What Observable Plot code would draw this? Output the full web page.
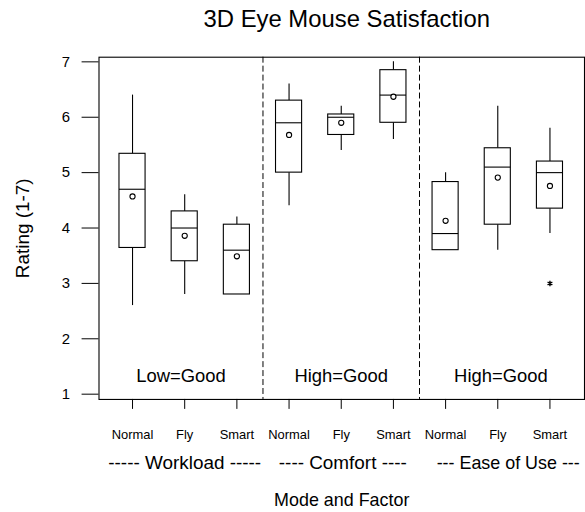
<!DOCTYPE html>
<html>
<head>
<meta charset="utf-8">
<script src="https://cdn.jsdelivr.net/npm/d3@7"></script>
<script src="https://cdn.jsdelivr.net/npm/@observablehq/plot@0.6"></script>
<style>
  html, body { margin: 0; padding: 0; background: #fff; overflow: hidden; }
</style>
</head>
<body>
<div id="chart"></div>
<script>
// ---- data ----
const categories   = ["Normal", "Fly", "Smart", "Normal", "Fly", "Smart", "Normal", "Fly", "Smart"];
const factors      = ["Workload", "Comfort", "Ease of Use"];
const factorLabels = ["----- Workload -----", "---- Comfort ----", "--- Ease of Use ---"];
const factorLabelPos  = [2, 5.03, 8.2];
const factorLabelSize = [19, 19, 18];
const goodLabels   = ["Low=Good", "High=Good", "High=Good"];
const goodLabelPos = [1.93, 5.0, 8.06];
const separators   = [3.5, 6.5];

const whiskerLow  = [2.6, 2.8, 2.8, 4.4, 5.4, 5.6, 3.6, 3.6, 3.9];
const q1          = [3.64, 3.4, 2.8, 5.0, 5.68, 5.9, 3.6, 4.06, 4.35];
const median      = [4.7, 4.0, 3.6, 5.9, 6.0, 6.4, 3.9, 5.1, 5.0];
const q3          = [5.34, 4.3, 4.06, 6.3, 6.05, 6.85, 4.83, 5.44, 5.2];
const whiskerHigh = [6.4, 4.6, 4.2, 6.6, 6.2, 7.0, 5.0, 6.2, 5.8];
const mean        = [4.57, 3.86, 3.49, 5.68, 5.9, 6.37, 4.13, 4.91, 4.76];
const outlierPos  = [9];
const outlierVal  = [3.0];
const yTicks      = [1, 2, 3, 4, 5, 6, 7];

// ---- table built from the arrays ----
const half = 0.25;
const boxes = categories.map((c, i) => ({
  pos: i + 1, label: c, factor: factors[Math.floor(i / 3)],
  lo: whiskerLow[i], q1: q1[i], med: median[i], q3: q3[i], hi: whiskerHigh[i], mean: mean[i]
}));
const outliers = outlierPos.map((p, i) => ({pos: p, value: outlierVal[i]}));
const factorTable = factorLabels.map((t, i) => ({text: t, pos: factorLabelPos[i], size: factorLabelSize[i]}));
const goodTable = goodLabels.map((t, i) => ({text: t, pos: goodLabelPos[i]}));

const font = "Liberation Sans, Arial, Helvetica, sans-serif";

const chart = Plot.plot({
  width: 588,
  height: 512,
  marginLeft: 99,
  marginRight: 1,
  marginTop: 57,
  marginBottom: 111,
  style: {fontFamily: font, background: "white", color: "black"},
  x: {domain: [0.3575, 9.662]},
  y: {domain: [0.905, 7.084]},
  marks: [
    Plot.frame({stroke: "black", strokeWidth: 1.1}),
    Plot.ruleX(separators, {stroke: "black", strokeDasharray: "6,3", strokeWidth: 1}),
    // whiskers
    Plot.ruleX(boxes, {x: "pos", y1: "lo", y2: "q1", stroke: "black", strokeWidth: 1.1}),
    Plot.ruleX(boxes, {x: "pos", y1: "q3", y2: "hi", stroke: "black", strokeWidth: 1.1}),
    // boxes
    Plot.rect(boxes, {x1: d => d.pos - half, x2: d => d.pos + half, y1: "q1", y2: "q3",
      fill: "white", stroke: "black", strokeWidth: 1.1}),
    // medians
    Plot.ruleY(boxes, {y: "med", x1: d => d.pos - half, x2: d => d.pos + half, stroke: "black", strokeWidth: 1.1}),
    // means
    Plot.dot(boxes, {x: "pos", y: "mean", r: 2.6, stroke: "black", fill: "white", strokeWidth: 1.1}),
    // outliers
    Plot.dot(outliers, {x: "pos", y: "value", symbol: "asterisk", r: 2.6, stroke: "black", strokeWidth: 1.4}),
    // annotations inside the panel
    Plot.text(goodTable, {x: "pos", text: "text", frameAnchor: "bottom", lineAnchor: "middle", dy: -23,
      fontSize: 18.5, fill: "black"}),
    // axes
    Plot.axisY({ticks: yTicks, tickFormat: d3.format("d"), tickSize: 17, tickPadding: 12, fontSize: 15,
      label: null, stroke: "black", fill: "black"}),
    Plot.axisX({ticks: boxes.map(d => d.pos), tickFormat: p => categories[p - 1], tickSize: 10, tickPadding: 21,
      fontSize: 13, label: null, stroke: "black", fill: "black"}),
    // factor labels under the axis
    Plot.text(factorTable, {x: "pos", text: "text", frameAnchor: "bottom", lineAnchor: "middle", dy: 64,
      fontSize: d => d.size, fill: "black"}),
    // axis titles and title
    Plot.text(["Mode and Factor"], {frameAnchor: "bottom", lineAnchor: "middle", dy: 101, fontSize: 18, fill: "black"}),
    Plot.text(["Rating (1-7)"], {frameAnchor: "left", textAnchor: "middle", lineAnchor: "middle", rotate: -90,
      dx: -76, fontSize: 19, fill: "black"}),
    Plot.text(["3D Eye Mouse Satisfaction"], {frameAnchor: "top", lineAnchor: "middle", dy: -38, dx: 5,
      fontSize: 24, fill: "black"})
  ]
});
document.getElementById("chart").appendChild(chart);
</script>
</body>
</html>
